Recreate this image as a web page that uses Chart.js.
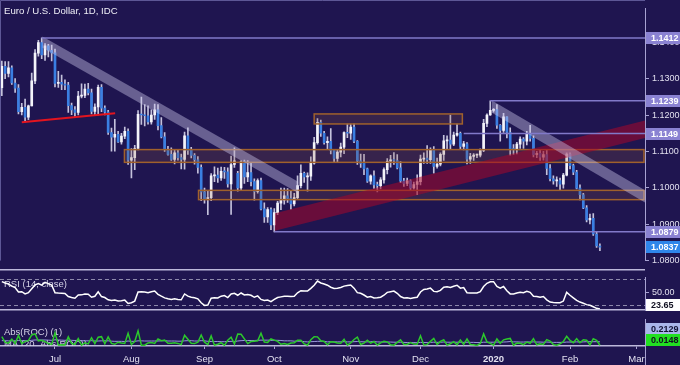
<!DOCTYPE html>
<html>
<head>
<meta charset="utf-8">
<script src="https://cdn.jsdelivr.net/npm/chart.js@4.4.1/dist/chart.umd.min.js"></script>
<style>
  html, body { margin: 0; padding: 0; background: #1f1550; }
  #wrap { position: relative; width: 680px; height: 365px; background: #1f1550; overflow: hidden; }
  canvas { position: absolute; left: 0; }
</style>
</head>
<body>
<div id="wrap">
  <canvas id="price" style="top:0" width="680" height="269"></canvas>
  <canvas id="rsi" style="top:269px" width="680" height="50"></canvas>
  <canvas id="roc" style="top:319px" width="680" height="46"></canvas>
</div>
<script>
// trading-day index of the first candle (Jul 1 2019 = 0)
const firstIdx = -16;
const monthIdx = [0, 23, 45, 66, 89, 110, 132, 155, 175];
const monthLabels = ['Jul', 'Aug', 'Sep', 'Oct', 'Nov', 'Dec', '2020', 'Feb', 'Mar'];

const opens = [
  1.1275,1.1334,1.1314,1.1330,1.1288,1.1274,1.1209,1.1221,1.1194,1.1225,
  1.1294,1.1370,1.1399,1.1365,1.1390,1.1378,1.1371,1.1287,1.1290,1.1285,
  1.1282,1.1226,1.1214,1.1207,1.1252,1.1254,1.1271,1.1261,1.1210,1.1222,
  1.1276,1.1219,1.1208,1.1152,1.1139,1.1147,1.1126,1.1142,1.1155,1.1076,
  1.1083,1.1108,1.1202,1.1200,1.1198,1.1181,1.1200,1.1214,1.1171,1.1140,
  1.1106,1.1092,1.1078,1.1096,1.1083,1.1078,1.1143,1.1103,1.1089,1.1077,
  1.1056,1.0989,1.0968,1.0973,1.1033,1.1035,1.1027,1.1045,1.1044,1.1011,
  1.1064,1.1040,1.1000,1.1072,1.1030,1.1042,1.1017,1.0990,1.1020,1.0942,
  1.0920,1.0940,1.0898,1.0932,1.0958,1.0966,1.0978,1.0971,1.0956,1.0973,
  1.1006,1.1040,1.1030,1.1032,1.1068,1.1124,1.1180,1.1150,1.1124,1.1128,
  1.1103,1.1081,1.1098,1.1112,1.1152,1.1150,1.1167,1.1128,1.1074,1.1067,
  1.1052,1.1018,1.1033,1.1008,1.1006,1.1022,1.1050,1.1073,1.1077,1.1075,
  1.1055,1.1019,1.1012,1.1019,1.1000,1.1009,1.1017,1.1079,1.1082,1.1077,
  1.1104,1.1059,1.1065,1.1092,1.1129,1.1131,1.1120,1.1145,1.1150,1.1114,
  1.1121,1.1079,1.1086,1.1090,1.1090,1.1103,1.1177,1.1200,1.1213,1.1215,
  1.1172,1.1158,1.1195,1.1152,1.1106,1.1105,1.1120,1.1134,1.1128,1.1150,
  1.1136,1.1091,1.1095,1.1084,1.1091,1.1053,1.1025,1.1019,1.1020,1.1010,
  1.1035,1.1093,1.1061,1.1043,1.0999,1.0981,1.0945,1.0912,1.0916,1.0873,
  1.0840
];
const highs = [
  1.1348,1.1347,1.1347,1.1335,1.1300,1.1284,1.1232,1.1244,1.1227,1.1315,
  1.1380,1.1405,1.1412,1.1396,1.1394,1.1392,1.1381,1.1320,1.1310,1.1297,
  1.1290,1.1233,1.1223,1.1265,1.1286,1.1285,1.1287,1.1271,1.1231,1.1282,
  1.1284,1.1225,1.1213,1.1164,1.1188,1.1155,1.1150,1.1167,1.1162,1.1108,
  1.1117,1.1212,1.1249,1.1229,1.1225,1.1214,1.1230,1.1229,1.1193,1.1152,
  1.1114,1.1110,1.1105,1.1104,1.1093,1.1153,1.1165,1.1111,1.1094,1.1086,
  1.1063,1.0999,1.0990,1.1039,1.1058,1.1054,1.1057,1.1056,1.1055,1.1087,
  1.1110,1.1045,1.1075,1.1076,1.1075,1.1068,1.1025,1.1025,1.1027,1.0959,
  1.0946,1.0945,1.0943,1.0963,1.0999,1.0999,1.0998,1.0992,1.0985,1.1033,
  1.1063,1.1043,1.1041,1.1085,1.1139,1.1190,1.1186,1.1155,1.1140,1.1163,
  1.1105,1.1106,1.1123,1.1154,1.1175,1.1175,1.1176,1.1130,1.1093,1.1092,
  1.1054,1.1036,1.1047,1.1016,1.1028,1.1055,1.1080,1.1089,1.1097,1.1091,
  1.1072,1.1026,1.1027,1.1022,1.1016,1.1036,1.1090,1.1096,1.1116,1.1110,
  1.1113,1.1082,1.1096,1.1144,1.1143,1.1200,1.1153,1.1175,1.1153,1.1128,
  1.1124,1.1095,1.1094,1.1093,1.1107,1.1188,1.1203,1.1239,1.1218,1.1229,
  1.1174,1.1205,1.1195,1.1165,1.1119,1.1125,1.1140,1.1138,1.1155,1.1172,
  1.1143,1.1100,1.1104,1.1100,1.1105,1.1064,1.1033,1.1030,1.1027,1.1040,
  1.1096,1.1096,1.1065,1.1048,1.1008,1.0985,1.0951,1.0928,1.0929,1.0880,
  1.0846
];
const lows = [
  1.1253,1.1300,1.1305,1.1284,1.1262,1.1203,1.1200,1.1181,1.1187,1.1225,
  1.1286,1.1362,1.1355,1.1350,1.1360,1.1349,1.1277,1.1276,1.1270,1.1270,
  1.1207,1.1201,1.1196,1.1200,1.1247,1.1248,1.1255,1.1203,1.1200,1.1200,
  1.1209,1.1200,1.1147,1.1101,1.1101,1.1125,1.1120,1.1135,1.1064,1.1027,
  1.1050,1.1104,1.1174,1.1170,1.1175,1.1175,1.1188,1.1159,1.1137,1.1100,
  1.1090,1.1075,1.1066,1.1076,1.1052,1.1051,1.1092,1.1082,1.1065,1.1040,
  1.0965,1.0958,1.0926,1.0965,1.1017,1.1015,1.1020,1.1026,1.1002,1.0927,
  1.1056,1.0991,1.0993,1.1012,1.1017,1.1005,1.0966,1.0985,1.0939,1.0905,
  1.0905,1.0885,1.0879,1.0926,1.0940,1.0955,1.0960,1.0941,1.0950,1.0968,
  1.1000,1.1015,1.0991,1.1020,1.1065,1.1120,1.1141,1.1120,1.1106,1.1093,
  1.1072,1.1072,1.1085,1.1094,1.1138,1.1133,1.1124,1.1064,1.1056,1.1036,
  1.1015,1.1010,1.0998,1.0989,1.0997,1.1013,1.1038,1.1057,1.1064,1.1052,
  1.1014,1.1004,1.1006,1.0993,1.0996,1.0981,1.1008,1.1067,1.1067,1.1067,
  1.1040,1.1054,1.1060,1.1075,1.1106,1.1106,1.1116,1.1142,1.1106,1.1104,
  1.1066,1.1067,1.1075,1.1083,1.1085,1.1099,1.1168,1.1199,1.1208,1.1163,
  1.1128,1.1152,1.1137,1.1090,1.1092,1.1093,1.1108,1.1108,1.1118,1.1128,
  1.1085,1.1083,1.1075,1.1076,1.1036,1.1019,1.1010,1.1004,1.0992,1.0999,
  1.1033,1.1052,1.1036,1.0997,1.0967,1.0943,1.0906,1.0901,1.0869,1.0836,
  1.0827
];
const closes = [
  1.1334,1.1314,1.1330,1.1288,1.1274,1.1209,1.1221,1.1194,1.1225,1.1294,
  1.1370,1.1399,1.1365,1.1390,1.1378,1.1371,1.1287,1.1290,1.1285,1.1282,
  1.1226,1.1214,1.1207,1.1252,1.1254,1.1271,1.1261,1.1210,1.1222,1.1276,
  1.1219,1.1208,1.1152,1.1139,1.1147,1.1126,1.1142,1.1155,1.1076,1.1083,
  1.1108,1.1202,1.1200,1.1198,1.1181,1.1200,1.1214,1.1171,1.1140,1.1106,
  1.1092,1.1078,1.1096,1.1083,1.1078,1.1143,1.1103,1.1089,1.1077,1.1056,
  1.0989,1.0968,1.0973,1.1033,1.1035,1.1027,1.1045,1.1044,1.1011,1.1064,
  1.1074,1.1000,1.1072,1.1030,1.1042,1.1017,1.0990,1.1020,1.0942,1.0920,
  1.0940,1.0898,1.0932,1.0958,1.0966,1.0978,1.0971,1.0956,1.0973,1.1006,
  1.1040,1.1030,1.1032,1.1068,1.1124,1.1180,1.1150,1.1124,1.1128,1.1103,
  1.1081,1.1098,1.1112,1.1152,1.1150,1.1167,1.1128,1.1074,1.1067,1.1052,
  1.1018,1.1033,1.1008,1.1006,1.1022,1.1050,1.1073,1.1077,1.1075,1.1055,
  1.1019,1.1012,1.1019,1.1000,1.1009,1.1017,1.1079,1.1082,1.1077,1.1104,
  1.1059,1.1065,1.1092,1.1129,1.1131,1.1120,1.1145,1.1150,1.1114,1.1121,
  1.1079,1.1086,1.1090,1.1090,1.1103,1.1177,1.1200,1.1213,1.1215,1.1172,
  1.1158,1.1195,1.1152,1.1106,1.1105,1.1120,1.1134,1.1128,1.1150,1.1136,
  1.1091,1.1095,1.1084,1.1091,1.1053,1.1025,1.1019,1.1020,1.1010,1.1035,
  1.1093,1.1061,1.1043,1.0999,1.0981,1.0945,1.0912,1.0916,1.0873,1.0840,
  1.0837
];
const rsi = [
  66,64,62.5,59,57,50,50.5,47,49,55,
  61,63,60.5,64.9,63,60.8,49,48.5,48.2,47.8,
  43,41.5,40.5,45.4,45.6,47,46.5,42,43.5,50.5,
  43,41.5,38,36.8,37.5,36,36.5,37.5,32.4,33.5,
  36,50,50.5,50,49,50.5,51.5,46.5,43.6,41,
  39.5,38.5,39.5,38.5,38,47,43.6,42,41,39.5,
  33.4,29.3,30,40.5,41,40.9,43.6,44.5,41.5,47.1,
  48,45,48.5,45.4,46,45,41.9,44,38.5,36.8,
  37.5,35.1,38.5,41.5,42.5,43.6,43.6,43,43.6,48.8,
  52,51.5,51.5,55.6,60.5,66.9,64,62.5,60.5,57.4,
  55.6,56,57,59.1,60.2,60.9,56,49,48,45.4,
  42,43,40.9,41,42,45,49.5,50.5,51.5,48,
  43,40.9,41,40,41,42,50,54,54.6,56,
  51,50.5,52.5,57.4,58,57,59,60.5,56,57,
  49,48.5,48.5,48.5,50.5,58.5,63.5,65.9,66,58.5,
  56,58.5,52,47.1,47,48.5,49.5,49,51,49.5,
  43.5,43,42,43,38,34.5,33.8,33.5,33.4,36,
  49.5,45,41,37,34.5,32.7,30.5,29.5,27.3,24.8,
  23.65
];
const absRoc = [
  0.51,0.18,0.14,0.37,0.12,0.58,0.11,0.24,0.28,0.61,
  0.67,0.26,0.30,0.22,0.11,0.06,0.74,0.03,0.04,0.03,
  0.50,0.11,0.06,0.40,0.02,0.15,0.09,0.45,0.11,0.48,
  0.51,0.10,0.50,0.12,0.07,0.19,0.14,0.12,0.71,0.06,
  0.23,0.85,0.02,0.02,0.15,0.17,0.12,0.38,0.28,0.31,
  0.13,0.13,0.16,0.12,0.05,0.59,0.36,0.13,0.11,0.19,
  0.61,0.19,0.05,0.55,0.02,0.07,0.16,0.01,0.30,0.48,
  0.09,0.67,0.65,0.38,0.11,0.23,0.25,0.27,0.71,0.20,
  0.18,0.38,0.31,0.24,0.07,0.11,0.06,0.14,0.16,0.30,
  0.31,0.09,0.02,0.33,0.51,0.50,0.27,0.23,0.04,0.22,
  0.20,0.15,0.13,0.36,0.02,0.15,0.35,0.49,0.06,0.14,
  0.31,0.14,0.23,0.02,0.15,0.25,0.21,0.04,0.02,0.18,
  0.33,0.06,0.06,0.17,0.08,0.07,0.56,0.03,0.05,0.24,
  0.41,0.05,0.24,0.33,0.02,0.10,0.22,0.04,0.32,0.06,
  0.38,0.06,0.04,0.00,0.12,0.67,0.21,0.12,0.02,0.38,
  0.13,0.33,0.38,0.41,0.01,0.14,0.13,0.05,0.20,0.13,
  0.40,0.04,0.10,0.06,0.34,0.25,0.05,0.01,0.09,0.23,
  0.53,0.29,0.16,0.40,0.16,0.33,0.30,0.04,0.39,0.30,
  0.0148
];
const rocMa = [
  0.28,0.28,0.27,0.27,0.27,0.29,0.28,0.28,0.28,0.30,
  0.32,0.32,0.32,0.32,0.31,0.30,0.33,0.32,0.31,0.30,
  0.31,0.30,0.29,0.30,0.28,0.27,0.27,0.28,0.26,0.26,
  0.27,0.27,0.27,0.25,0.24,0.24,0.24,0.23,0.26,0.24,
  0.24,0.27,0.27,0.26,0.26,0.26,0.26,0.26,0.27,0.28,
  0.26,0.26,0.26,0.25,0.25,0.27,0.28,0.28,0.26,0.26,
  0.28,0.27,0.24,0.23,0.23,0.23,0.22,0.22,0.23,0.24,
  0.23,0.26,0.28,0.29,0.29,0.29,0.29,0.30,0.31,0.31,
  0.31,0.30,0.30,0.30,0.29,0.27,0.27,0.27,0.25,0.25,
  0.25,0.22,0.21,0.22,0.23,0.24,0.24,0.24,0.21,0.22,
  0.21,0.21,0.21,0.22,0.21,0.21,0.22,0.23,0.22,0.21,
  0.21,0.22,0.22,0.21,0.20,0.20,0.20,0.20,0.19,0.19,
  0.19,0.18,0.17,0.17,0.17,0.16,0.18,0.17,0.17,0.18,
  0.19,0.18,0.19,0.20,0.19,0.19,0.19,0.19,0.19,0.18,
  0.19,0.18,0.18,0.17,0.17,0.19,0.19,0.19,0.19,0.20,
  0.19,0.20,0.21,0.23,0.21,0.21,0.20,0.20,0.21,0.20,
  0.21,0.20,0.20,0.19,0.20,0.19,0.18,0.18,0.18,0.18,
  0.20,0.20,0.20,0.21,0.20,0.21,0.22,0.22,0.22,0.22,
  0.2129
];

// drawn studies, in (trading-day index, price)
const levelPrices = [1.1412, 1.1239, 1.1149, 1.0879];
const levelFrom = [-4, 131, 123, 66];
const zones = [[78, 122.6, 1.1203, 1.11755], [20.9, 178, 1.1105, 1.1070], [43.2, 178, 1.0993, 1.09675]];
const fallChannels = [[-3.77, 1.1416, 73.2, 1.10168, 0.0031], [131.5, 1.1240, 178, 1.0991, 0.00335]];
const riseChannel = [66.2, 1.0930, 178, 1.1186, 0.0048];
const supportLine = [-10.0, 1.1180, 18.1, 1.1205];
const rsiBands = [70, 30];

const X_MIN = -16.55, X_MAX = 177.57;
const FONT = '"Liberation Sans", Arial, sans-serif';
const LINE = '#bcb8da';
Chart.defaults.font.family = FONT;

const idxOf = k => firstIdx + k;
const pts = arr => arr.map((v, k) => ({x: idxOf(k), y: v}));

function hiddenX() {
  return {type: 'linear', min: X_MIN, max: X_MAX, offset: false, display: false};
}
function rightY(extra) {
  return Object.assign({
    position: 'right',
    afterFit: s => { s.width = 35; },
    border: {color: '#a7a2d2', width: 1},
    grid: {drawOnChartArea: false, tickLength: 4, color: '#a7a2d2'},
    ticks: {color: '#e2e0ef', font: {size: 9}, padding: 3}
  }, extra);
}
const base = {
  responsive: false, animation: false, events: [],
  layout: {padding: 0, autoPadding: false},
  plugins: {legend: {display: false}, tooltip: {enabled: false}}
};

function badge(ctx, y, text, bg, fg) {
  ctx.fillStyle = bg;
  ctx.fillRect(646, Math.round(y) - 6, 34, 12);
  ctx.fillStyle = fg;
  ctx.font = 'bold 9px ' + FONT;
  ctx.textAlign = 'left';
  ctx.textBaseline = 'middle';
  ctx.fillText(text, 651, Math.round(y) + 0.5);
}

const priceDecor = {
  id: 'priceDecor',
  afterDatasetsDraw(chart) {
    const {ctx, chartArea: a, scales: {x, y}} = chart;
    const px = v => x.getPixelForValue(v), py = v => y.getPixelForValue(v);
    ctx.save();
    ctx.beginPath();
    ctx.rect(a.left, a.top, a.right - a.left, a.bottom - a.top);
    ctx.clip();

    zones.forEach(z => {
      const x0 = px(z[0]), x1 = Math.min(px(z[1]), a.right - 1);
      const y0 = py(z[2]), y1 = py(z[3]);
      ctx.fillStyle = 'rgba(140,88,62,0.22)';
      ctx.fillRect(x0, y0, x1 - x0, y1 - y0);
      ctx.strokeStyle = '#a0612c';
      ctx.lineWidth = 1.5;
      ctx.strokeRect(x0, y0, x1 - x0, y1 - y0);
    });

    const band = (c, fill) => {
      const [i0, p0, i1, p1, w] = c;
      ctx.beginPath();
      ctx.moveTo(px(i0), py(p0));
      ctx.lineTo(px(i1), py(p1));
      ctx.lineTo(px(i1), py(p1 - w));
      ctx.lineTo(px(i0), py(p0 - w));
      ctx.closePath();
      ctx.fillStyle = fill;
      ctx.fill();
    };
    band(riseChannel, 'rgba(165,8,42,0.55)');
    fallChannels.forEach(c => band(c, 'rgba(205,200,235,0.42)'));

    ctx.strokeStyle = '#e3141f';
    ctx.lineWidth = 2;
    ctx.beginPath();
    ctx.moveTo(px(supportLine[0]), py(supportLine[1]));
    ctx.lineTo(px(supportLine[2]), py(supportLine[3]));
    ctx.stroke();

    ctx.strokeStyle = '#8179c9';
    ctx.lineWidth = 1.5;
    levelPrices.forEach((p, k) => {
      const yy = py(p);
      ctx.beginPath();
      ctx.moveTo(px(levelFrom[k]), yy);
      ctx.lineTo(a.right, yy);
      ctx.stroke();
    });
    ctx.restore();
  },
  afterDraw(chart) {
    const {ctx, chartArea: a, scales: {y}} = chart;
    ctx.save();
    ctx.strokeStyle = '#5d5796';
    ctx.lineWidth = 1;
    ctx.beginPath();
    ctx.moveTo(0.5, a.bottom); ctx.lineTo(0.5, 0.5); ctx.lineTo(a.right, 0.5);
    ctx.stroke();
    levelPrices.forEach(p => badge(ctx, y.getPixelForValue(p), p.toFixed(4), '#8a82d2', '#ffffff'));
    const last = closes[closes.length - 1];
    badge(ctx, y.getPixelForValue(last), last.toFixed(4), '#2f86ea', '#ffffff');
    ctx.fillStyle = '#eeeef6';
    ctx.font = '9.6px ' + FONT;
    ctx.textBaseline = 'middle';
    ctx.fillText('Euro / U.S. Dollar, 1D, IDC', 4, 11);
    ctx.restore();
  }
};

new Chart(document.getElementById('price'), {
  type: 'bar',
  data: {
    datasets: [
      {
        data: closes.map((c, k) => ({x: idxOf(k), y: [opens[k], c]})),
        backgroundColor: closes.map((c, k) => c >= opens[k] ? '#f4f4fa' : '#3a7fe2'),
        barThickness: 2, minBarLength: 1, grouped: false, order: 1
      },
      {
        data: highs.map((h, k) => ({x: idxOf(k), y: [lows[k], h]})),
        backgroundColor: '#c4c2dc',
        barThickness: 1, grouped: false, order: 2
      }
    ]
  },
  options: Object.assign({}, base, {
    scales: {
      x: hiddenX(),
      y: rightY({
        min: 1.08, max: 1.1493,
        ticks: {color: '#e2e0ef', font: {size: 9}, padding: 3, stepSize: 0.01, includeBounds: false,
          callback: v => v.toFixed(4)}
      })
    }
  }),
  plugins: [priceDecor]
});

const rsiDecor = {
  id: 'rsiDecor',
  beforeDatasetsDraw(chart) {
    const {ctx, chartArea: a, scales: {y}} = chart;
    ctx.save();
    ctx.strokeStyle = '#8c88aa';
    ctx.lineWidth = 1;
    ctx.setLineDash([4, 3]);
    rsiBands.forEach(v => {
      const yy = Math.round(y.getPixelForValue(v)) + 0.5;
      ctx.beginPath(); ctx.moveTo(a.left, yy); ctx.lineTo(a.right, yy); ctx.stroke();
    });
    ctx.setLineDash([]);
    ctx.fillStyle = '#d4d2e6';
    ctx.font = '9.5px ' + FONT;
    ctx.textBaseline = 'middle';
    ctx.fillText('RSI (14, close)', 4, 15);
    ctx.restore();
  },
  afterDraw(chart) {
    const {ctx, chartArea: a, scales: {y}} = chart;
    ctx.save();
    ctx.strokeStyle = LINE;
    ctx.lineWidth = 1.5;
    ctx.beginPath();
    ctx.moveTo(0, 0.75); ctx.lineTo(a.right, 0.75);
    ctx.moveTo(0, a.bottom - 0.75); ctx.lineTo(a.right, a.bottom - 0.75);
    ctx.stroke();
    const last = rsi[rsi.length - 1];
    const yy = Math.min(Math.max(y.getPixelForValue(last), a.top + 6), a.bottom - 6);
    badge(ctx, yy, last.toFixed(2), '#ffffff', '#111122');
    ctx.restore();
  }
};

new Chart(document.getElementById('rsi'), {
  type: 'line',
  data: {datasets: [{data: pts(rsi), borderColor: '#ffffff', borderWidth: 1.5, pointRadius: 0, tension: 0}]},
  options: Object.assign({}, base, {
    scales: {
      x: hiddenX(),
      y: rightY({
        min: 21.3, max: 72.6,
        afterBuildTicks: s => { s.ticks = [{value: 50}]; },
        ticks: {color: '#e2e0ef', font: {size: 9}, padding: 3, callback: v => v.toFixed(2)}
      })
    }
  }),
  plugins: [rsiDecor]
});

const rocDecor = {
  id: 'rocDecor',
  beforeDatasetsDraw(chart) {
    const {ctx, chartArea: a} = chart;
    ctx.save();
    ctx.beginPath();
    ctx.rect(a.left, a.top, a.right - a.left, a.bottom - a.top);
    ctx.clip();
    ctx.fillStyle = '#d4d2e6';
    ctx.font = '9.5px ' + FONT;
    ctx.textBaseline = 'middle';
    ctx.fillText('Abs(ROC) (1)', 4, 13);
    ctx.fillText('MA (20, Abs(ROC))', 4, 25);
    ctx.restore();
  },
  afterDraw(chart) {
    const {ctx, chartArea: a, scales: {y}} = chart;
    ctx.save();
    ctx.strokeStyle = '#a7a2d2';
    ctx.lineWidth = 1;
    ctx.beginPath();
    ctx.moveTo(a.right + 0.5, 0); ctx.lineTo(a.right + 0.5, chart.height);
    ctx.stroke();
    const lastRoc = absRoc[absRoc.length - 1], lastMa = rocMa[rocMa.length - 1];
    const yRoc = Math.min(y.getPixelForValue(lastRoc), a.bottom - 6);
    const yMa = Math.min(y.getPixelForValue(lastMa), yRoc - 11);
    badge(ctx, yMa, lastMa.toFixed(4), '#a9b6ea', '#111133');
    badge(ctx, yRoc, lastRoc.toFixed(4), '#22e022', '#111122');
    ctx.restore();
  }
};

new Chart(document.getElementById('roc'), {
  type: 'line',
  data: {
    datasets: [
      {data: pts(absRoc), borderColor: '#2cc82c', borderWidth: 1.5, pointRadius: 0, tension: 0},
      {data: pts(rocMa), borderColor: '#9a98dc', borderWidth: 1, pointRadius: 0, tension: 0}
    ]
  },
  options: Object.assign({}, base, {
    scales: {
      x: {
        type: 'linear', min: X_MIN, max: X_MAX, offset: false, position: 'bottom',
        afterFit: s => { s.height = 19; },
        afterBuildTicks: s => { s.ticks = monthIdx.map(v => ({value: v})); },
        border: {color: LINE, width: 1.5},
        grid: {drawOnChartArea: false, tickLength: 3, color: '#a7a2d2'},
        ticks: {
          color: '#e2e0ef', padding: 5, maxRotation: 0, autoSkip: false,
          font: c => ({size: 9.5, weight: c.tick && c.tick.value === 132 ? 'bold' : 'normal'}),
          callback: (v, i) => monthLabels[i]
        }
      },
      y: rightY({
        min: -0.03, max: 1.05,
        afterBuildTicks: s => { s.ticks = [{value: 1}]; },
        ticks: {color: '#e2e0ef', font: {size: 9}, padding: 3, callback: v => v.toFixed(4)}
      })
    }
  }),
  plugins: [rocDecor]
});
</script>
</body>
</html>
